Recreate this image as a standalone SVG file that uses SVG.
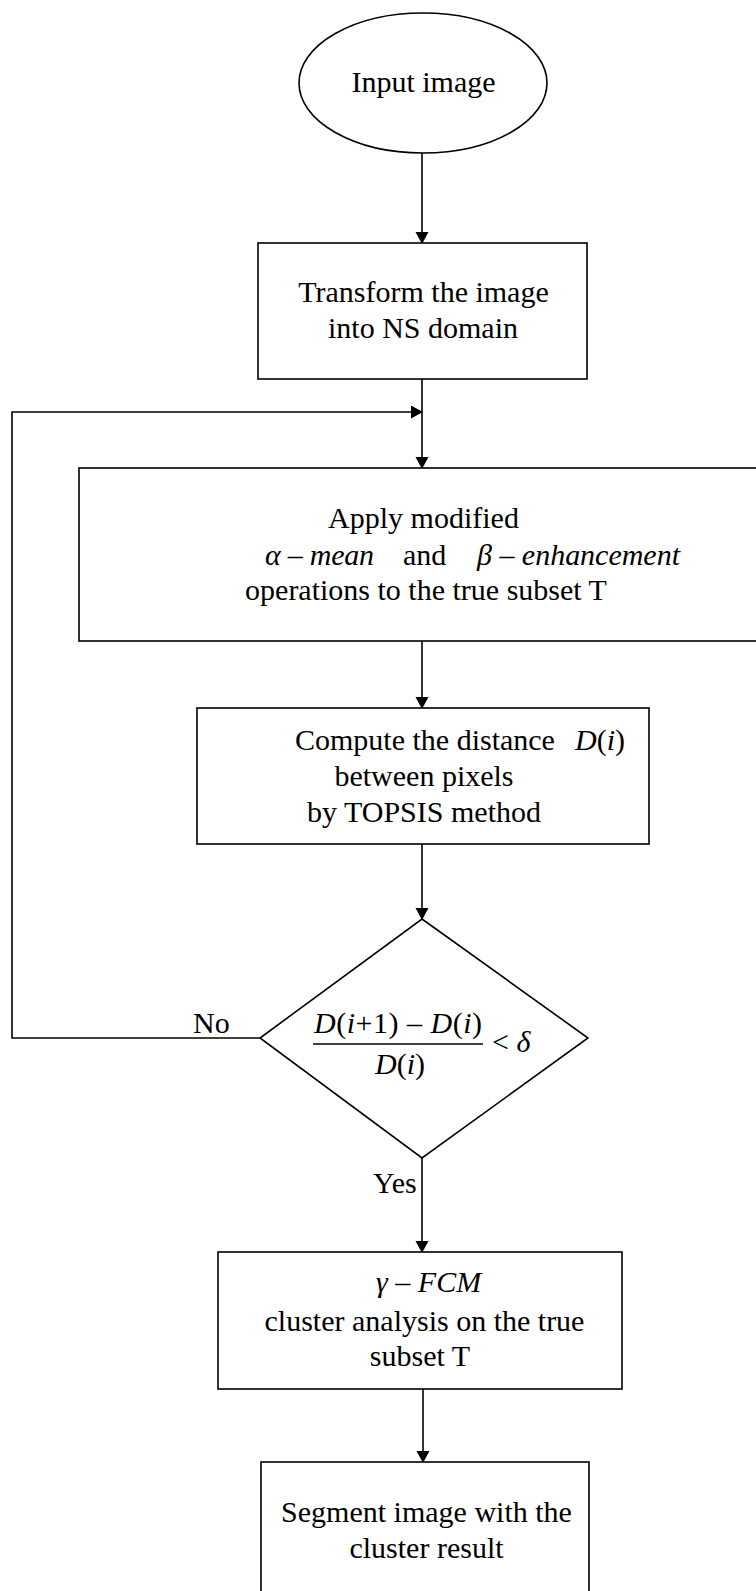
<svg xmlns="http://www.w3.org/2000/svg" width="756" height="1591" viewBox="0 0 756 1591">
<style>
.s{fill:#fff;stroke:#000;stroke-width:1.6}
.c{fill:none;stroke:#000;stroke-width:1.6}
text{font-family:"Liberation Serif","Times New Roman",serif;font-size:30px;fill:#000}
.m{text-anchor:middle}
.i{font-style:italic}
</style>
<defs>
<marker id="ah" markerWidth="14" markerHeight="14" refX="11" refY="6.5" orient="auto" markerUnits="userSpaceOnUse">
<path d="M0,0 L12,6.5 L0,13 Z" fill="#000"/>
</marker>
</defs>
<rect width="756" height="1591" fill="#fff"/>
<g id="connectors">
<line class="c" x1="422" y1="153" x2="422" y2="243" marker-end="url(#ah)"/>
<line class="c" x1="422" y1="379" x2="422" y2="468" marker-end="url(#ah)"/>
<polyline class="c" points="260,1038 12,1038 12,412 422,412" marker-end="url(#ah)"/>
<line class="c" x1="422" y1="641" x2="422" y2="708" marker-end="url(#ah)"/>
<line class="c" x1="422" y1="844" x2="422" y2="919" marker-end="url(#ah)"/>
<line class="c" x1="422" y1="1158" x2="422" y2="1252" marker-end="url(#ah)"/>
<line class="c" x1="423" y1="1389" x2="423" y2="1462" marker-end="url(#ah)"/>
<text x="193" y="1033">No</text>
<text x="373" y="1193">Yes</text>
</g>
<g id="start">
<ellipse class="s" cx="423" cy="83" rx="124" ry="70"/>
<text class="m" x="423.5" y="92">Input image</text>
</g>
<g id="transform">
<rect class="s" x="258" y="243" width="329" height="136"/>
<text class="m" x="423.5" y="302">Transform the image</text>
<text class="m" x="423" y="338">into NS domain</text>
</g>
<g id="apply">
<rect class="s" x="79" y="468" width="700" height="173"/>
<text class="m" x="423.5" y="528">Apply modified</text>
<text x="265" y="565" textLength="109" lengthAdjust="spacing"><tspan class="i">α</tspan> – <tspan class="i">mean</tspan></text>
<text x="403" y="565">and</text>
<text x="477" y="565" textLength="203" lengthAdjust="spacing"><tspan class="i">β</tspan> – <tspan class="i">enhancement</tspan></text>
<text class="m" x="426" y="600">operations to the true subset T</text>
</g>
<g id="compute">
<rect class="s" x="197" y="708" width="452" height="136"/>
<text x="295" y="750">Compute the distance</text>
<text x="575" y="750"><tspan class="i">D</tspan>(<tspan class="i">i</tspan>)</text>
<text class="m" x="424" y="786">between pixels</text>
<text class="m" x="424" y="822">by TOPSIS method</text>
</g>
<g id="decision">
<polygon class="s" points="422,919 588,1038 422,1158 260,1038"/>
<text x="314" y="1033" textLength="168" lengthAdjust="spacing"><tspan class="i">D</tspan>(<tspan class="i">i</tspan>+1) – <tspan class="i">D</tspan>(<tspan class="i">i</tspan>)</text>
<line class="c" x1="313" y1="1044" x2="483" y2="1044"/>
<text x="375" y="1074"><tspan class="i">D</tspan>(<tspan class="i">i</tspan>)</text>
<text x="492" y="1052">&lt; <tspan class="i">δ</tspan></text>
</g>
<g id="fcm">
<rect class="s" x="218" y="1252" width="404" height="137"/>
<text x="376" y="1292"><tspan class="i">γ</tspan> – <tspan class="i">FCM</tspan></text>
<text class="m" x="424.5" y="1331">cluster analysis on the true</text>
<text class="m" x="420" y="1366">subset T</text>
</g>
<g id="segment">
<rect class="s" x="261" y="1462" width="328" height="160"/>
<text class="m" x="426.5" y="1522">Segment image with the</text>
<text class="m" x="426.5" y="1558">cluster result</text>
</g>
</svg>
